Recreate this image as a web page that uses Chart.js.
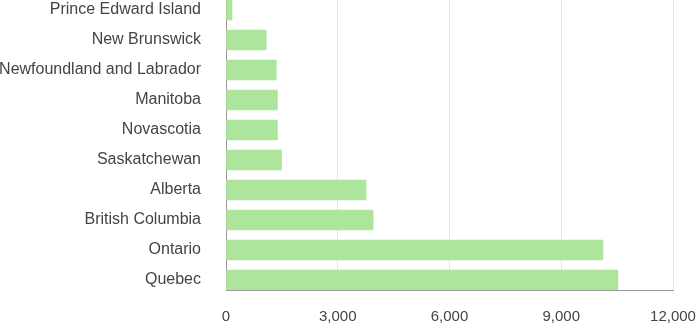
<!DOCTYPE html>
<html>
<head>
<meta charset="utf-8">
<script src="https://cdn.jsdelivr.net/npm/chart.js@4"></script>
<style>
  html, body { margin: 0; padding: 0; background: #fff; }
  canvas { display: block; }
</style>
</head>
<body>
<canvas id="myChart" width="696" height="325"></canvas>
<script>
// Provincias y valores
const provincias = [
    'Prince Edward Island',
    'New Brunswick',
    'Newfoundland and Labrador',
    'Manitoba',
    'Novascotia',
    'Saskatchewan',
    'Alberta',
    'British Columbia',
    'Ontario',
    'Quebec'
];
const valores = [160, 1080, 1350, 1380, 1380, 1490, 3760, 3950, 10120, 10520];
const ticksX = [0, 3000, 6000, 9000, 12000];

const ctx = document.getElementById('myChart').getContext('2d');

Chart.defaults.font.family = '"Liberation Sans", Arial, sans-serif';
Chart.defaults.font.size = 14;
Chart.defaults.color = '#444';

// el eje y es lineal para que las barras queden pegadas a los bordes
const puntos = valores.map((v, i) => ({ x: v, y: i }));

function sinPadding(axis) {
    axis.paddingTop = 0;
    axis.paddingBottom = 0;
    axis.paddingLeft = 0;
    axis.paddingRight = 0;
}

const config = {
    type: 'bar',
    data: {
        datasets: [{
            data: puntos,
            backgroundColor: '#ade59c',
            borderWidth: 0,
            barThickness: 20
        }]
    },
    options: {
        indexAxis: 'y',
        responsive: false,
        animation: false,
        layout: { padding: { top: 0, right: 23, bottom: 0, left: 0 } },
        plugins: {
            legend: { display: false },
            tooltip: { enabled: false }
        },
        scales: {
            x: {
                type: 'linear',
                min: ticksX[0],
                max: ticksX[ticksX.length - 1],
                afterBuildTicks: axis => { axis.ticks = ticksX.map(v => ({ value: v })); },
                ticks: {
                    padding: 18,
                    maxRotation: 0,
                    font: { size: 15 },
                    callback: v => v.toLocaleString('en-US')
                },
                grid: { color: '#e6e6e6', drawTicks: false },
                border: { color: '#999' },
                afterFit: axis => { axis.height = 35; sinPadding(axis); }
            },
            y: {
                type: 'linear',
                reverse: true,
                offset: false,
                min: -1 / 3,
                max: provincias.length - 1 + 1 / 3,
                afterBuildTicks: axis => { axis.ticks = provincias.map((p, i) => ({ value: i })); },
                ticks: {
                    padding: 25,
                    font: { size: 16 },
                    callback: v => provincias[v]
                },
                grid: { display: false, drawTicks: false, offset: false },
                border: { color: '#999' },
                afterFit: axis => { axis.width = 226; sinPadding(axis); }
            }
        }
    }
};

const myChart = new Chart(ctx, config);
</script>
</body>
</html>
